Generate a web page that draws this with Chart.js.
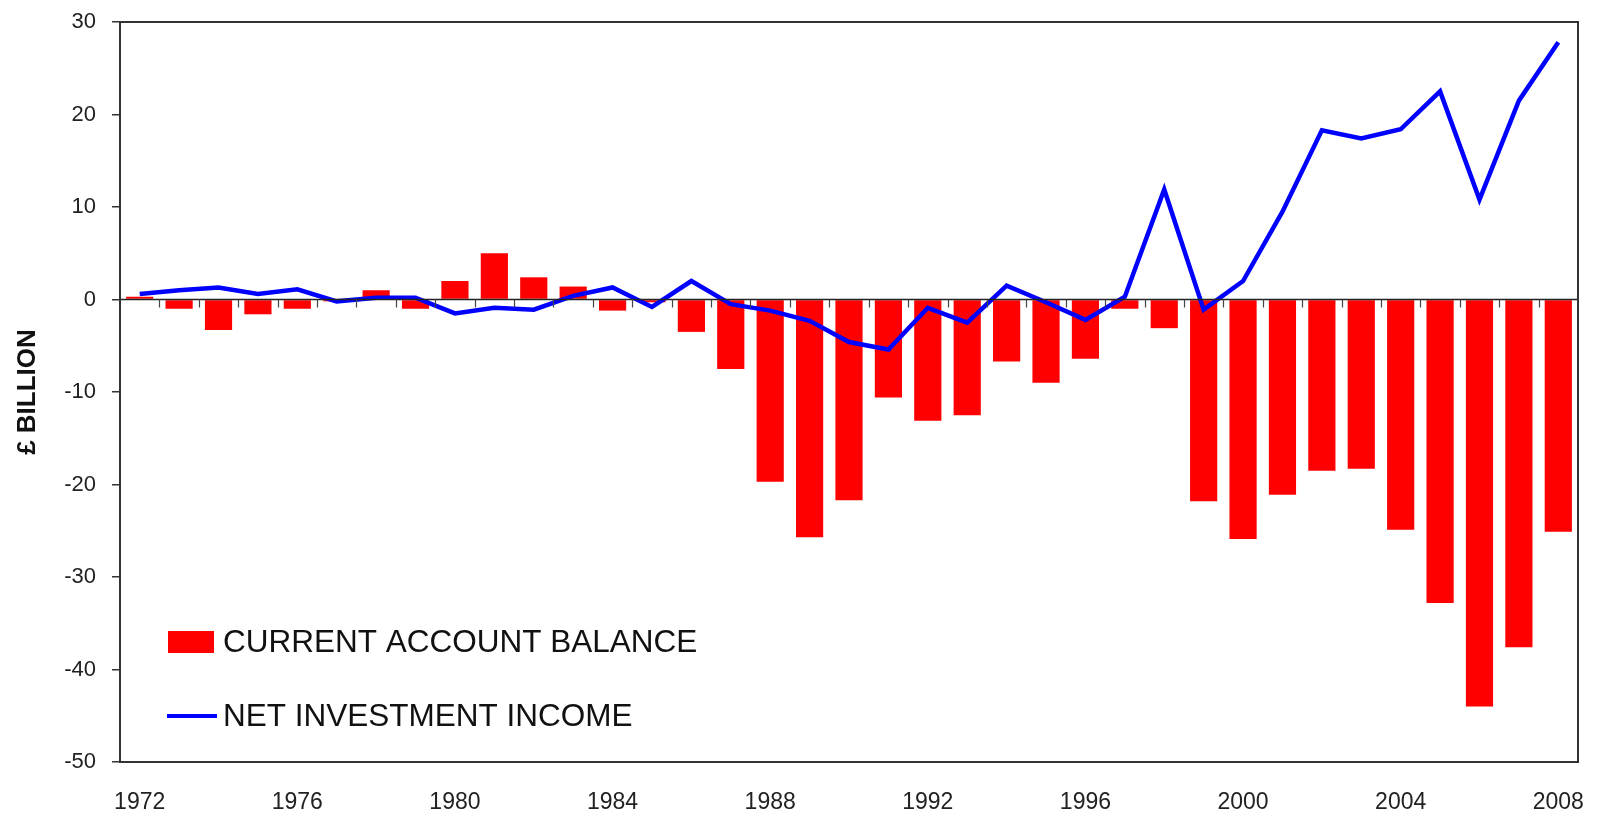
<!DOCTYPE html>
<html>
<head>
<meta charset="utf-8">
<script src="https://cdn.jsdelivr.net/npm/chart.js@4.4.1/dist/chart.umd.min.js"></script>
<style>
  html, body { margin: 0; padding: 0; background: #fff; }
  #wrap { width: 1597px; height: 817px; position: relative; }
</style>
</head>
<body>
<div id="wrap"><canvas id="c" width="1597" height="817"></canvas></div>
<script>
const years = [1972,1973,1974,1975,1976,1977,1978,1979,1980,1981,1982,1983,1984,1985,1986,1987,1988,1989,1990,1991,1992,1993,1994,1995,1996,1997,1998,1999,2000,2001,2002,2003,2004,2005,2006,2007,2008];
const currentAccountBalance = [0.3,-1.0,-3.3,-1.6,-1.0,-0.2,1.0,-1.0,2.0,5.0,2.4,1.4,-1.2,-0.3,-3.5,-7.5,-19.7,-25.7,-21.7,-10.6,-13.1,-12.5,-6.7,-9.0,-6.4,-1.0,-3.1,-21.8,-25.9,-21.1,-18.5,-18.3,-24.9,-32.8,-44.0,-37.6,-25.1];
const netInvestmentIncome = [0.6,1.0,1.3,0.6,1.1,-0.2,0.2,0.2,-1.5,-0.9,-1.1,0.4,1.3,-0.8,2.0,-0.5,-1.2,-2.3,-4.6,-5.4,-0.9,-2.5,1.5,-0.3,-2.2,0.3,11.9,-1.1,2.0,9.5,18.3,17.4,18.4,22.5,10.8,21.5,27.8];
const seriesNames = ['CURRENT ACCOUNT BALANCE', 'NET INVESTMENT INCOME'];
const yTitle = '£ BILLION';
const yMin = -50, yMax = 30, yStep = 10;
const labelEvery = 4;

const narrow = '"Liberation Sans Narrow", "Arial Narrow", "Liberation Sans", Arial, sans-serif';
const regular = '"Liberation Sans", Arial, sans-serif';

const framePlugin = {
  id: 'frame',
  afterDatasetsDraw(chart) {
    const {ctx, chartArea: a, scales} = chart;
    const x = scales.x, y = scales.y;
    const y0 = y.getPixelForValue(0);
    ctx.save();
    ctx.strokeStyle = '#222';
    ctx.lineWidth = 1.5;
    ctx.beginPath();
    ctx.moveTo(a.left, y0); ctx.lineTo(a.right, y0);
    ctx.stroke();
    const n = chart.data.labels.length;
    const w = (a.right - a.left) / n;
    ctx.lineWidth = 1.2;
    ctx.strokeStyle = '#444';
    ctx.beginPath();
    for (let i = 1; i < n; i++) {
      const px = Math.round(x.getPixelForValue(i) - w / 2) + 0.5;
      ctx.moveTo(px, y0); ctx.lineTo(px, y0 + 8);
    }
    ctx.stroke();
    ctx.strokeStyle = '#333';
    ctx.lineWidth = 2;
    ctx.strokeRect(a.left, a.top, a.right - a.left, a.bottom - a.top);
    ctx.restore();
  },
  afterDraw(chart) {
    const {ctx} = chart;
    const bar = chart.data.datasets.find(d => d.type === 'bar');
    const line = chart.data.datasets.find(d => d.type === 'line');
    ctx.save();
    ctx.font = '31.5px ' + regular;
    ctx.textBaseline = 'middle';
    ctx.fillStyle = bar.backgroundColor;
    ctx.fillRect(168, 631, 46, 22);
    ctx.fillStyle = '#111';
    ctx.fillText(bar.label, 223, 643);
    ctx.strokeStyle = line.borderColor;
    ctx.lineWidth = 4;
    ctx.beginPath();
    ctx.moveTo(167, 716); ctx.lineTo(217, 716);
    ctx.stroke();
    ctx.fillText(line.label, 223, 717);
    ctx.restore();
  }
};

new Chart(document.getElementById('c'), {
  type: 'bar',
  data: {
    labels: years.map(String),
    datasets: [
      {
        type: 'line',
        label: seriesNames[1],
        data: netInvestmentIncome,
        borderColor: '#0000ff',
        backgroundColor: '#0000ff',
        borderWidth: 4.5,
        pointRadius: 0,
        tension: 0,
        order: 0
      },
      {
        type: 'bar',
        label: seriesNames[0],
        data: currentAccountBalance,
        backgroundColor: '#ff0000',
        borderWidth: 0,
        categoryPercentage: 1.0,
        barPercentage: 0.69,
        order: 1
      }
    ]
  },
  options: {
    responsive: false,
    animation: false,
    devicePixelRatio: 1,
    layout: { padding: { top: 22, right: 19, bottom: 0, left: 0 } },
    plugins: { legend: { display: false }, tooltip: { enabled: false } },
    scales: {
      x: {
        offset: true,
        border: { display: false },
        grid: { display: false, drawTicks: false },
        ticks: {
          autoSkip: false,
          maxRotation: 0,
          padding: 27,
          color: '#222',
          font: { family: narrow, size: 23 },
          callback(v, i) { return (years[i] - years[0]) % labelEvery === 0 ? years[i] : ''; }
        },
        afterFit(s) { s.height = 55; s.paddingLeft = 0; s.paddingRight = 0; }
      },
      y: {
        min: yMin, max: yMax,
        border: { display: false },
        grid: { drawOnChartArea: false, drawTicks: true, tickLength: 8, color: '#333', lineWidth: 1.5 },
        ticks: { stepSize: yStep, padding: 16, color: '#222', font: { family: narrow, size: 22 } },
        title: {
          display: true, text: yTitle, color: '#111',
          font: { family: regular, size: 26, weight: 'bold' },
          padding: { top: 12, bottom: 0 }
        },
        afterFit(s) { s.width = 120; s.paddingTop = 0; s.paddingBottom = 0; }
      }
    }
  },
  plugins: [framePlugin]
});
</script>
</body>
</html>
